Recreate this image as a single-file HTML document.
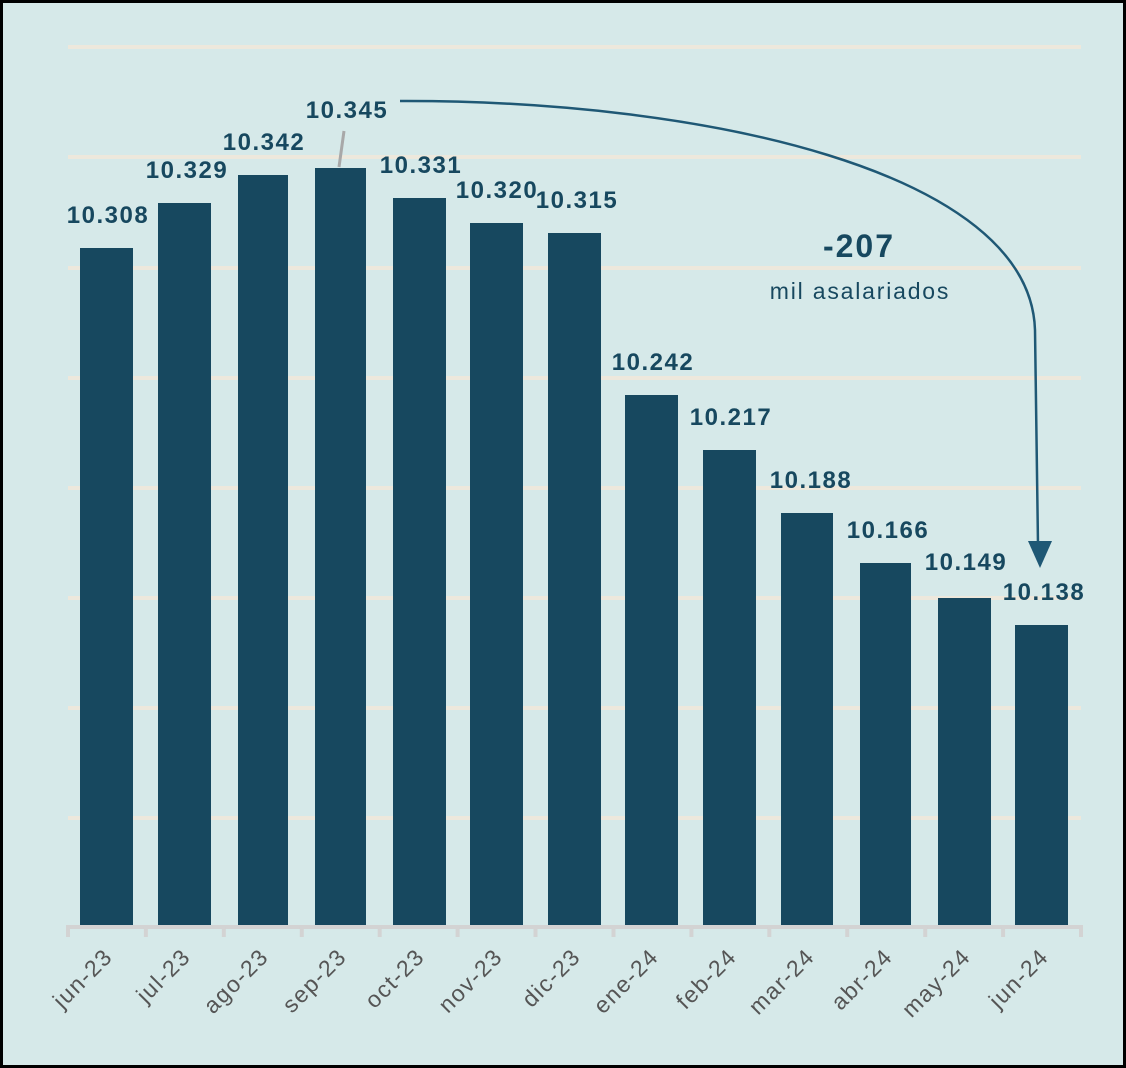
<!DOCTYPE html>
<html><head><style>
body{margin:0;background:#000;}
</style></head><body>
<svg width="1126" height="1068" xmlns="http://www.w3.org/2000/svg" style="display:block">
<rect x="0" y="0" width="1126" height="1068" fill="#000"/>
<rect x="3" y="3" width="1120" height="1062" fill="#d6e9e9"/>
<g stroke="#ede8dc" stroke-width="4">
<line x1="68" x2="1081" y1="47" y2="47"/><line x1="68" x2="1081" y1="157" y2="157"/>
<line x1="68" x2="1081" y1="268" y2="268"/><line x1="68" x2="1081" y1="378" y2="378"/>
<line x1="68" x2="1081" y1="488" y2="488"/><line x1="68" x2="1081" y1="598" y2="598"/>
<line x1="68" x2="1081" y1="708" y2="708"/><line x1="68" x2="1081" y1="818" y2="818"/>
</g>
<g fill="#17485f">
<rect x="80" y="248" width="53" height="678"/>
<rect x="158" y="203" width="53" height="723"/>
<rect x="238" y="175" width="50" height="751"/>
<rect x="315" y="168" width="51" height="758"/>
<rect x="393" y="198" width="53" height="728"/>
<rect x="470" y="223" width="53" height="703"/>
<rect x="548" y="233" width="53" height="693"/>
<rect x="625" y="395" width="53" height="531"/>
<rect x="703" y="450" width="53" height="476"/>
<rect x="781" y="513" width="52" height="413"/>
<rect x="860" y="563" width="51" height="363"/>
<rect x="938" y="598" width="53" height="328"/>
<rect x="1015" y="625" width="53" height="301"/>
</g>
<g stroke="#d3d3d3" stroke-width="4">
<line x1="66" x2="1083" y1="927" y2="927"/>
<line x1="68" x2="68" y1="927" y2="937"/><line x1="145.9" x2="145.9" y1="927" y2="937"/>
<line x1="223.8" x2="223.8" y1="927" y2="937"/><line x1="301.8" x2="301.8" y1="927" y2="937"/>
<line x1="379.7" x2="379.7" y1="927" y2="937"/><line x1="457.6" x2="457.6" y1="927" y2="937"/>
<line x1="535.5" x2="535.5" y1="927" y2="937"/><line x1="613.5" x2="613.5" y1="927" y2="937"/>
<line x1="691.4" x2="691.4" y1="927" y2="937"/><line x1="769.3" x2="769.3" y1="927" y2="937"/>
<line x1="847.2" x2="847.2" y1="927" y2="937"/><line x1="925.2" x2="925.2" y1="927" y2="937"/>
<line x1="1003.1" x2="1003.1" y1="927" y2="937"/><line x1="1081" x2="1081" y1="927" y2="937"/>
</g>
<line x1="344" y1="131" x2="339" y2="167" stroke="#a8a8a8" stroke-width="3"/>
<g font-family="Liberation Sans, sans-serif" font-weight="bold" font-size="24" letter-spacing="1.5" fill="#17485f" text-anchor="middle">
<text x="108" y="223">10.308</text>
<text x="187" y="178">10.329</text>
<text x="264" y="150">10.342</text>
<text x="347" y="118">10.345</text>
<text x="421" y="173">10.331</text>
<text x="497" y="198">10.320</text>
<text x="577" y="208">10.315</text>
<text x="653" y="370">10.242</text>
<text x="731" y="425">10.217</text>
<text x="811" y="488">10.188</text>
<text x="888" y="538">10.166</text>
<text x="966" y="570">10.149</text>
<text x="1044" y="600">10.138</text>
<text x="859" y="257" font-size="32" letter-spacing="2">-207</text>
</g>
<text x="860" y="299" font-family="Liberation Sans, sans-serif" font-size="23" letter-spacing="1.8" fill="#17485f" text-anchor="middle">mil asalariados</text>
<path d="M400 101 C 700 100, 1030 170, 1035 330 L 1038 545" fill="none" stroke="#1f5875" stroke-width="2.5"/>
<polygon points="1028,541 1052,541 1040,568" fill="#1f5875"/>
<g font-family="Liberation Sans, sans-serif" font-size="23" letter-spacing="1.5" fill="#555" text-anchor="end">
<text transform="translate(114,958) rotate(-45)">jun-23</text>
<text transform="translate(192,958) rotate(-45)">jul-23</text>
<text transform="translate(270,958) rotate(-45)">ago-23</text>
<text transform="translate(348,958) rotate(-45)">sep-23</text>
<text transform="translate(426,958) rotate(-45)">oct-23</text>
<text transform="translate(504,958) rotate(-45)">nov-23</text>
<text transform="translate(582,958) rotate(-45)">dic-23</text>
<text transform="translate(660,958) rotate(-45)">ene-24</text>
<text transform="translate(738,958) rotate(-45)">feb-24</text>
<text transform="translate(816,958) rotate(-45)">mar-24</text>
<text transform="translate(894,958) rotate(-45)">abr-24</text>
<text transform="translate(972,958) rotate(-45)">may-24</text>
<text transform="translate(1050,958) rotate(-45)">jun-24</text>
</g>
</svg>
</body></html>
